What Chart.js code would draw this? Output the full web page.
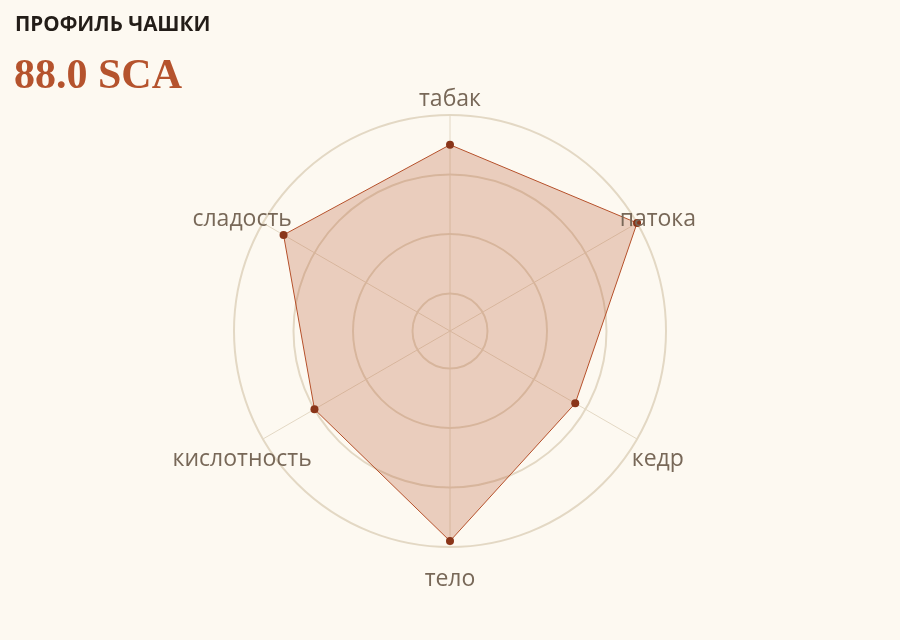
<!DOCTYPE html>
<html>
<head>
<meta charset="utf-8">
<script src="https://cdn.jsdelivr.net/npm/chart.js@4"></script>
<style>
  html, body { margin: 0; padding: 0; background: #fdf9f1; }
  #wrap { position: relative; width: 900px; height: 640px; }
  #cap { position: absolute; left: 15px; top: 9px; font: bold 20.6px "Open Sans", sans-serif; color: #231d18; }
  #score { position: absolute; left: 14px; top: 50px; font: bold 42px "Liberation Serif", serif; color: #b5532d; }
  canvas { position: absolute; left: 0; top: 0; }
</style>
</head>
<body>
<div id="wrap">
  <canvas id="radar" width="900" height="640"></canvas>
  <div id="cap">ПРОФИЛЬ ЧАШКИ</div>
  <div id="score">88.0 SCA</div>
</div>
<script>
// вкусовой профиль
const labels = ['табак', 'патока', 'кедр', 'тело', 'кислотность', 'сладость'];
const scores = [9.5, 10.0, 8.8, 9.9, 9.0, 9.6];
const scaleMin = 6.37;
const scaleMax = 10;

// подписи осей по центру, как в оригинале
const centeredLabels = {
    id: 'centeredLabels',
    afterDraw(chart) {
        const scale = chart.scales.r;
        const ctx = chart.ctx;
        ctx.save();
        ctx.font = '23px "Open Sans"';
        ctx.fillStyle = '#786858';
        ctx.textAlign = 'center';
        ctx.textBaseline = 'middle';
        for (let i = 0; i < labels.length; i++) {
            const p = scale.getPointPosition(i, scale.drawingArea + 24);
            ctx.fillText(labels[i], p.x, p.y + 8);
        }
        ctx.restore();
    }
};

const data = {
    labels: labels,
    datasets: [{
        label: 'Профиль',
        data: scores,
        backgroundColor: 'rgba(181, 80, 42, 0.26)',
        borderColor: '#b5502a',
        borderWidth: 1,
        pointBackgroundColor: '#8a3519',
        pointBorderColor: '#8a3519',
        pointRadius: 4,
        pointBorderWidth: 0,
    }]
};

const config = {
    type: 'radar',
    data: data,
    options: {
        responsive: false,
        animation: false,
        layout: { padding: { top: 115, bottom: 92, left: 0, right: 0 } },
        plugins: {
            legend: { display: false },
            tooltip: { enabled: false }
        },
        scales: {
            r: {
                min: scaleMin,
                max: scaleMax,
                ticks: { display: false, stepSize: 1 },
                grid: { color: '#e3d8c4', lineWidth: 2, circular: true },
                angleLines: { color: '#e3d8c4', lineWidth: 1 },
                pointLabels: { display: false }
            }
        }
    },
    plugins: [centeredLabels]
};

new Chart(document.getElementById('radar').getContext('2d'), config);
</script>
</body>
</html>
